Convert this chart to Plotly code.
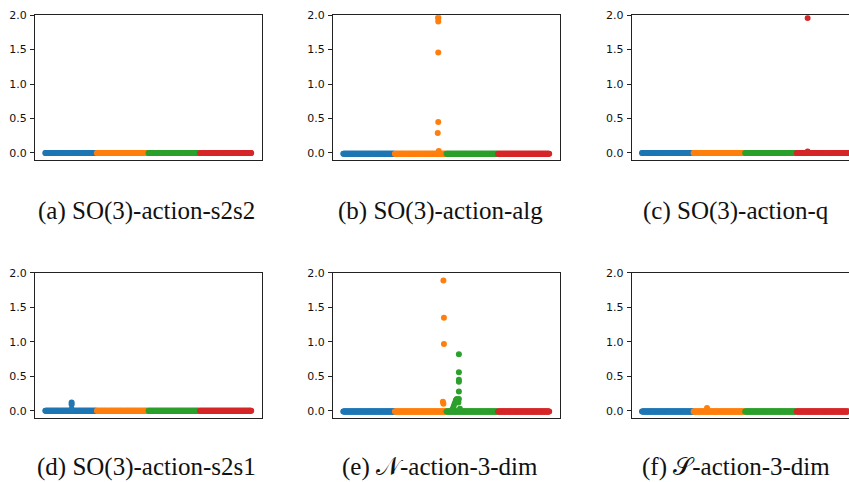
import plotly.graph_objects as go

W, H = 849, 482
N = 100  # points per group (indices 0..399 across the four groups)
COLORS = ["#1f77b4", "#ff7f0e", "#2ca02c", "#d62728"]

captions = [
    "(a) SO(3)-action-s2s2",
    "(b) SO(3)-action-alg",
    "(c) SO(3)-action-q",
    "(d) SO(3)-action-s2s1",
    "(e) \U0001D4A9-action-3-dim",
    "(f) \U0001D4AE-action-3-dim",
]
y_ticks = [0.0, 0.5, 1.0, 1.5, 2.0]
y_tick_labels = ["0.0", "0.5", "1.0", "1.5", "2.0"]

# baseline level of the four group strips in each panel
base_a = [0.0, 0.0, 0.0, 0.0]
base_b = [-0.01, -0.01, -0.01, -0.01]
base_c = [0.0, 0.0, 0.0, 0.0]
base_d = [0.0, 0.0, 0.0, 0.0]
base_e = [-0.01, -0.01, -0.01, -0.01]
base_f = [-0.01, -0.01, -0.01, -0.01]

# outlying points: group number, sample index, value
out_a_g, out_a_x, out_a_y = [], [], []
out_b_g = [1, 1, 1, 1, 1, 1, 1]
out_b_x = [184, 184, 184, 184, 184, 183, 185]
out_b_y = [1.97, 1.95, 1.91, 1.46, 0.45, 0.29, 0.03]
out_c_g = [3, 3]
out_c_x = [321, 321]
out_c_y = [1.96, 0.02]
out_d_g = [0, 0, 0]
out_d_x = [51, 51, 51]
out_d_y = [0.12, 0.09, 0.02]
out_e_g = [1, 1, 1, 1, 1,
           2, 2, 2, 2, 2, 2, 2, 2, 2, 2, 2, 2, 2, 2, 2]
out_e_x = [194, 195, 195, 193, 194,
           224, 224, 224, 224, 224, 224, 212, 214, 216, 218, 219, 220, 222, 223, 226]
out_e_y = [1.89, 1.35, 0.97, 0.13, 0.10,
           0.82, 0.56, 0.45, 0.42, 0.28, 0.17, 0.03, 0.07, 0.11, 0.15, 0.16, 0.17, 0.15, 0.12, 0.03]
out_f_g = [1]
out_f_x = [126]
out_f_y = [0.04]

panels = [
    (base_a, out_a_g, out_a_x, out_a_y),
    (base_b, out_b_g, out_b_x, out_b_y),
    (base_c, out_c_g, out_c_x, out_c_y),
    (base_d, out_d_g, out_d_x, out_d_y),
    (base_e, out_e_g, out_e_x, out_e_y),
    (base_f, out_f_g, out_f_x, out_f_y),
]

# layout geometry (pixels)
col_left = [35.0, 333.0, 631.7]
panel_w = 226.5
row_top = [9.3, 270.3]
panel_h = 146.5
cap_x = [146.0, 440.0, 736.0]
cap_y = [208.0, 467.0]

total = 4 * N
xmin = -0.05 * (total - 1)
xmax = (total - 1) * 1.05
span = xmax - xmin

fig = go.Figure()
layout = dict(
    width=W, height=H, margin=dict(l=0, r=0, t=0, b=0),
    paper_bgcolor="white", plot_bgcolor="white", showlegend=False,
    annotations=[], shapes=[],
)

for p, (base, og, ox, oy) in enumerate(panels):
    r, c = divmod(p, 3)
    k = "" if p == 0 else str(p + 1)
    x0 = col_left[c]
    x1 = x0 + panel_w
    if x1 > W:
        vis = (W - x0) / panel_w
        xr = [xmin, xmin + span * vis]
        x1 = W
        cut = True
    else:
        xr = [xmin, xmax]
        cut = False
    y0 = row_top[r]
    y1 = y0 + panel_h
    for g in range(4):
        xs = list(range(g * N, (g + 1) * N))
        ys = [base[g]] * N
        for gg, xx, yy in zip(og, ox, oy):
            if gg == g:
                xs.append(xx)
                ys.append(yy)
        fig.add_trace(go.Scatter(
            x=xs, y=ys, mode="markers",
            marker=dict(size=6, color=COLORS[g], line=dict(width=0)),
            xaxis="x" + k, yaxis="y" + k, hoverinfo="skip",
        ))
    layout["xaxis" + k] = dict(
        domain=[x0 / W, x1 / W], range=xr, anchor="y" + k,
        showticklabels=False, ticks="", showgrid=False, zeroline=False,
        showline=True, linecolor="#222", linewidth=1, mirror=True,
    )
    layout["yaxis" + k] = dict(
        domain=[1 - y1 / H, 1 - y0 / H], range=[-0.1, 2.0], anchor="x" + k,
        tickvals=y_ticks, ticktext=y_tick_labels, ticks="outside",
        ticklen=4, tickwidth=1, tickcolor="#222",
        tickfont=dict(family="DejaVu Sans", size=11, color="#111"),
        showgrid=False, zeroline=False,
        showline=True, linecolor="#222", linewidth=1, mirror=not cut,
        ticklabelstandoff=1,
    )
    layout["annotations"].append(dict(
        text=captions[p], xref="paper", yref="paper",
        x=cap_x[c] / W, y=1 - cap_y[r] / H, xanchor="center", yanchor="middle",
        showarrow=False,
        font=dict(family="Liberation Serif, Times New Roman, serif", size=25, color="#111"),
    ))

fig.update_layout(**layout)
fig.write_html(
    "out.html",
    config={"displayModeBar": False, "staticPlot": True},
    post_script="document.body.style.margin='0';document.body.style.padding='0';",
)
